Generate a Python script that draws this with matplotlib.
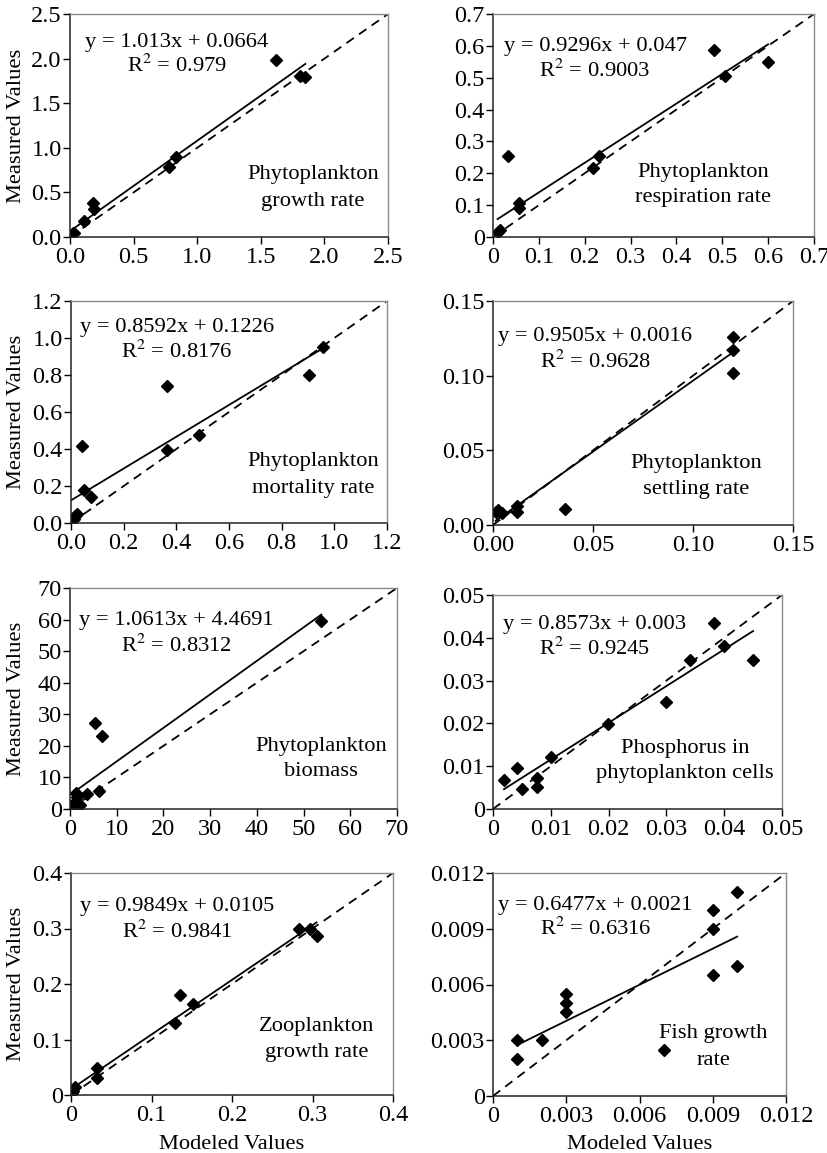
import numpy as np
import matplotlib
matplotlib.use("Agg")
import matplotlib.pyplot as plt

plt.rcParams['font.family'] = ['Liberation Serif', 'DejaVu Serif']
plt.rcParams['mathtext.fontset'] = 'stix'

# --- data (modeled x, measured y) ---
growth_x = [0.02, 0.03, 0.11, 0.18, 0.19, 0.78, 0.83, 1.62, 1.81, 1.85]
growth_y = [0.04, 0.05, 0.18, 0.38, 0.31, 0.78, 0.90, 1.98, 1.81, 1.79]

resp_x = [0.010, 0.016, 0.032, 0.057, 0.057, 0.219, 0.232, 0.482, 0.505, 0.600]
resp_y = [0.016, 0.021, 0.255, 0.107, 0.091, 0.217, 0.255, 0.587, 0.506, 0.550]

mort_x = [0.002, 0.010, 0.014, 0.023, 0.043, 0.050, 0.077, 0.363, 0.365, 0.486, 0.902, 0.957]
mort_y = [0.014, 0.020, 0.036, 0.050, 0.417, 0.176, 0.140, 0.742, 0.395, 0.473, 0.800, 0.949]

settle_x = [0.0013, 0.0023, 0.0047, 0.012, 0.012, 0.036, 0.1198, 0.120, 0.120]
settle_y = [0.0090, 0.0100, 0.0082, 0.0127, 0.0089, 0.0107, 0.1260, 0.117, 0.102]

biom_x = [0.1, 0.6, 1.2, 1.6, 1.2, 2.1, 3.6, 6.2, 5.4, 6.9, 53.8]
biom_y = [0.6, 1.6, 1.9, 3.8, 5.1, 1.4, 4.8, 5.6, 27.2, 23.2, 59.4]

phos_x = [0.0019, 0.0042, 0.0050, 0.0076, 0.0076, 0.0101, 0.0199, 0.0300, 0.0341, 0.0383, 0.0400, 0.0450]
phos_y = [0.0067, 0.0096, 0.0047, 0.0072, 0.0051, 0.0121, 0.0199, 0.0251, 0.0347, 0.0434, 0.0380, 0.0347]

zoo_x = [0.001, 0.003, 0.005, 0.032, 0.032, 0.129, 0.1355, 0.151, 0.283, 0.297, 0.305]
zoo_y = [0.003, 0.008, 0.015, 0.048, 0.030, 0.129, 0.180, 0.164, 0.300, 0.300, 0.286]

fish_x = [0.001, 0.001, 0.002, 0.003, 0.003, 0.003, 0.007, 0.009, 0.009, 0.009, 0.010, 0.010]
fish_y = [0.003, 0.002, 0.003, 0.0045, 0.005, 0.0055, 0.0025, 0.010, 0.009, 0.0065, 0.011, 0.007]

slopes = [1.013, 0.9296, 0.8592, 0.9505, 1.0613, 0.8573, 0.9849, 0.6477]
intercepts = [0.0664, 0.047, 0.1226, 0.0016, 4.4691, 0.003, 0.0105, 0.0021]
eq_texts = ["y = 1.013x + 0.0664", "y = 0.9296x + 0.047", "y = 0.8592x + 0.1226",
            "y = 0.9505x + 0.0016", "y = 1.0613x + 4.4691", "y = 0.8573x + 0.003",
            "y = 0.9849x + 0.0105", "y = 0.6477x + 0.0021"]
r2_texts = ["0.979", "0.9003", "0.8176", "0.9628", "0.8312", "0.9245", "0.9841", "0.6316"]
names = [("Phytoplankton", "growth rate"), ("Phytoplankton", "respiration rate"),
         ("Phytoplankton", "mortality rate"), ("Phytoplankton", "settling rate"),
         ("Phytoplankton", "biomass"), ("Phosphorus in", "phytoplankton cells"),
         ("Zooplankton", "growth rate"), ("Fish growth", "rate")]

axis_max = [2.5, 0.7, 1.2, 0.15, 70, 0.05, 0.4, 0.012]
ticks = [
    ([0, 0.5, 1.0, 1.5, 2.0, 2.5], ["0.0", "0.5", "1.0", "1.5", "2.0", "2.5"]),
    ([0, 0.1, 0.2, 0.3, 0.4, 0.5, 0.6, 0.7], ["0", "0.1", "0.2", "0.3", "0.4", "0.5", "0.6", "0.7"]),
    ([0, 0.2, 0.4, 0.6, 0.8, 1.0, 1.2], ["0.0", "0.2", "0.4", "0.6", "0.8", "1.0", "1.2"]),
    ([0, 0.05, 0.10, 0.15], ["0.00", "0.05", "0.10", "0.15"]),
    ([0, 10, 20, 30, 40, 50, 60, 70], ["0", "10", "20", "30", "40", "50", "60", "70"]),
    ([0, 0.01, 0.02, 0.03, 0.04, 0.05], ["0", "0.01", "0.02", "0.03", "0.04", "0.05"]),
    ([0, 0.1, 0.2, 0.3, 0.4], ["0", "0.1", "0.2", "0.3", "0.4"]),
    ([0, 0.003, 0.006, 0.009, 0.012], ["0", "0.003", "0.006", "0.009", "0.012"]),
]
xs = [growth_x, resp_x, mort_x, settle_x, biom_x, phos_x, zoo_x, fish_x]
ys = [growth_y, resp_y, mort_y, settle_y, biom_y, phos_y, zoo_y, fish_y]

# axes boxes in pixels: left, right, top, bottom
boxes = [(70, 388, 14, 237), (493, 814, 14, 237),
         (71, 387, 301, 523), (493, 793, 301, 525),
         (70, 397, 588, 809), (493, 782, 595, 809),
         (71, 393, 873, 1095), (493, 786, 873, 1096)]
# text anchors (axes fraction): eq x, eq y, r2 y, name x, name y1, name y2
txt_pos = [(0.336, 0.87, 0.77, 0.764, 0.28, 0.16),
           (0.318, 0.854, 0.745, 0.655, 0.29, 0.175),
           (0.335, 0.879, 0.77, 0.767, 0.277, 0.157),
           (0.341, 0.84, 0.728, 0.678, 0.275, 0.159),
           (0.326, 0.854, 0.741, 0.769, 0.283, 0.17),
           (0.35, 0.863, 0.748, 0.665, 0.285, 0.165),
           (0.33, 0.85, 0.737, 0.762, 0.308, 0.191),
           (0.349, 0.853, 0.752, 0.752, 0.279, 0.159)]

W, H = 827, 1153
fig = plt.figure(figsize=(W / 100, H / 100), dpi=100)
fs = 16.2
tfs = 17.5

for i in range(8):
    l, r, t, b = boxes[i]
    ax = fig.add_axes([l / W, 1 - b / H, (r - l) / W, (b - t) / H])
    m = axis_max[i]
    x = np.array(xs[i])
    ax.plot([0, m], [0, m], ls=(0, (5, 3.5)), color='k', lw=1.3)
    fx = np.array([x.min(), x.max()])
    ax.plot(fx, slopes[i] * fx + intercepts[i], color='k', lw=1.3)
    ax.plot(xs[i], ys[i], ls='none', marker='D', ms=6.3, color='k')
    ax.set_xlim(0, m)
    ax.set_ylim(0, m)
    tv, tl = ticks[i]
    ax.set_xticks(tv)
    ax.set_xticklabels(tl)
    ax.set_yticks(tv)
    ax.set_yticklabels(tl)
    ax.tick_params(direction='out', length=5, width=1, labelsize=tfs, pad=1)
    ax.tick_params(axis='x', pad=2)
    for s in ['left', 'bottom']:
        ax.spines[s].set_color('#222222')
        ax.spines[s].set_linewidth(1.1)
    for s in ['top', 'right']:
        ax.spines[s].set_color('#8a8a8a')
        ax.spines[s].set_linewidth(1.0)

    ex, ey, ry, nx, ny1, ny2 = txt_pos[i]
    ax.text(ex, ey, eq_texts[i], transform=ax.transAxes, ha='center', va='center', fontsize=fs)
    ax.text(ex, ry, "R$^2$ = " + r2_texts[i], transform=ax.transAxes, ha='center', va='center', fontsize=fs)
    ax.text(nx, ny1, names[i][0], transform=ax.transAxes, ha='center', va='center', fontsize=fs)
    ax.text(nx, ny2, names[i][1], transform=ax.transAxes, ha='center', va='center', fontsize=fs)

    if i % 2 == 0:
        fig.text(17 / W, 1 - ((t + b) / 2) / H, "Measured Values", rotation=90,
                 ha='center', va='center', fontsize=fs)
    if i >= 6:
        fig.text(((l + r) / 2) / W, 1 - 1149 / H, "Modeled Values",
                 ha='center', va='baseline', fontsize=fs)

fig.savefig("out.png", dpi=100)
